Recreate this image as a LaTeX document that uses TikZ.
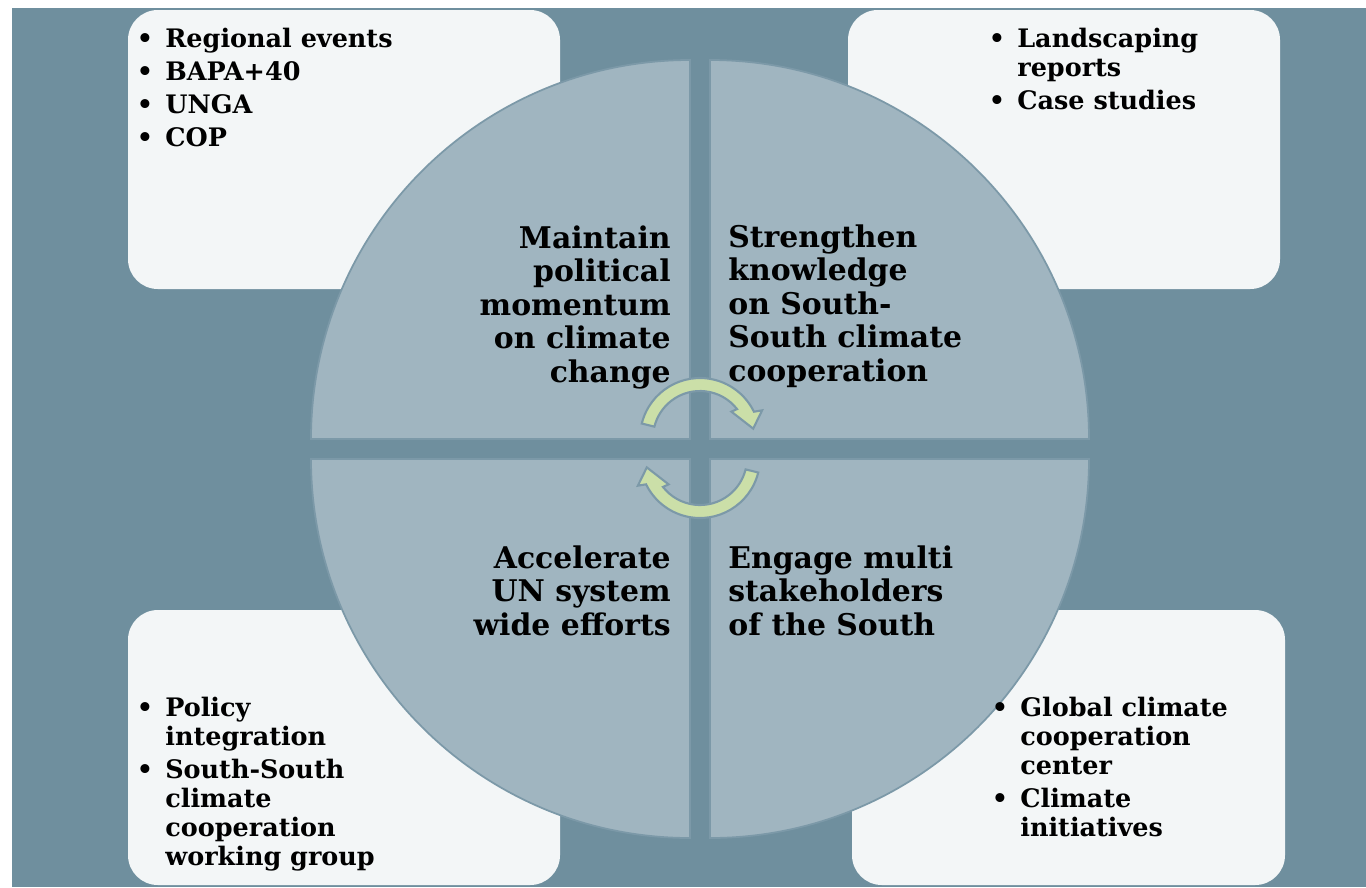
\documentclass[tikz,border=0pt]{standalone}
\usepackage{fontspec}
\setmainfont{DejaVu Serif}
\usepackage{tikz}
\definecolor{BackColor}{RGB}{111,143,158}
\definecolor{QuarterColor}{RGB}{160,181,192}
\definecolor{QuarterEdge}{RGB}{124,153,168}
\definecolor{BoxColor}{RGB}{243,246,247}
\definecolor{ArrowColor}{RGB}{203,223,168}
\newcommand{\bl}{\llap{\textbullet\hspace{7pt}}}
\newcommand{\pgap}{2.3pt}

\begin{document}
\begin{tikzpicture}[x=0.02cm,y=-0.02cm,
  listtext/.style={inner sep=0pt, anchor=base west, align=left, font=\bfseries\fontsize{14.5}{16.4}\selectfont},
  goaltext/.style={inner sep=0pt, font=\bfseries\fontsize{17}{19}\selectfont}]

  \useasboundingbox (0,0) rectangle (1366,887);
  \fill[BackColor] (12,8) rectangle (1366,887);

  % boxes behind the circle
  \fill[BoxColor, rounded corners=17pt] (128,10) rectangle (560,289);
  \fill[BoxColor, rounded corners=17pt] (848,10) rectangle (1280,289);
  \fill[BoxColor, rounded corners=17pt] (128,610) rectangle (560,885);
  \fill[BoxColor, rounded corners=17pt] (852,610) rectangle (1285,885);

  % four quarters
  \draw[fill=QuarterColor, draw=QuarterEdge, line width=1pt] (690,439) -- (311,439) arc[start angle=180, end angle=270, radius=379] -- cycle;
  \draw[fill=QuarterColor, draw=QuarterEdge, line width=1pt] (710,439) -- (710,60) arc[start angle=270, end angle=360, radius=379] -- cycle;
  \draw[fill=QuarterColor, draw=QuarterEdge, line width=1pt] (710,459) -- (1089,459) arc[start angle=0, end angle=90, radius=379] -- cycle;
  \draw[fill=QuarterColor, draw=QuarterEdge, line width=1pt] (690,459) -- (690,838) arc[start angle=90, end angle=180, radius=379] -- cycle;

  % circular arrows
  \foreach \cy/\rot in {438/0, 458/180}
  {
    \begin{scope}[shift={(700,\cy)}, rotate=\rot]
      \draw[fill=ArrowColor, draw=QuarterEdge, line width=1.2pt] (-166:60) arc[start angle=-166, end angle=-26, radius=60] -- (-24:68) -- (-10:54) -- (-40:41) -- (-38:47) arc[start angle=-38, end angle=-166, radius=47] -- cycle;
    \end{scope}
  }

  % goals (anchored at the last line)
  \node[goaltext, anchor=base east, align=right] (politics) at (671,382) {Maintain\\political\\momentum\\on climate\\change};
  \node[goaltext, anchor=base west, align=left] (knowledge) at (728,381) {Strengthen\\knowledge\\on South-\\South climate\\cooperation};
  \node[goaltext, anchor=base east, align=right] (unsystem) at (671,635) {Accelerate\\UN system\\wide efforts};
  \node[goaltext, anchor=base west, align=left] (stakeholders) at (728,635) {Engage multi\\stakeholders\\of the South};

  % lists
  \node[listtext] (events) at (165,146) {\bl Regional events\\[\pgap]\bl BAPA+40\\[\pgap]\bl UNGA\\[\pgap]\bl COP};
  \node[listtext] (reports) at (1017,109) {\bl Landscaping\\reports\\[\pgap]\bl Case studies};
  \node[listtext] (policy) at (165,865) {\bl Policy\\integration\\[\pgap]\bl South-South\\climate\\cooperation\\working group};
  \node[listtext] (centre) at (1020,836) {\bl Global climate\\cooperation\\center\\[\pgap]\bl Climate\\initiatives};

\end{tikzpicture}
\end{document}
